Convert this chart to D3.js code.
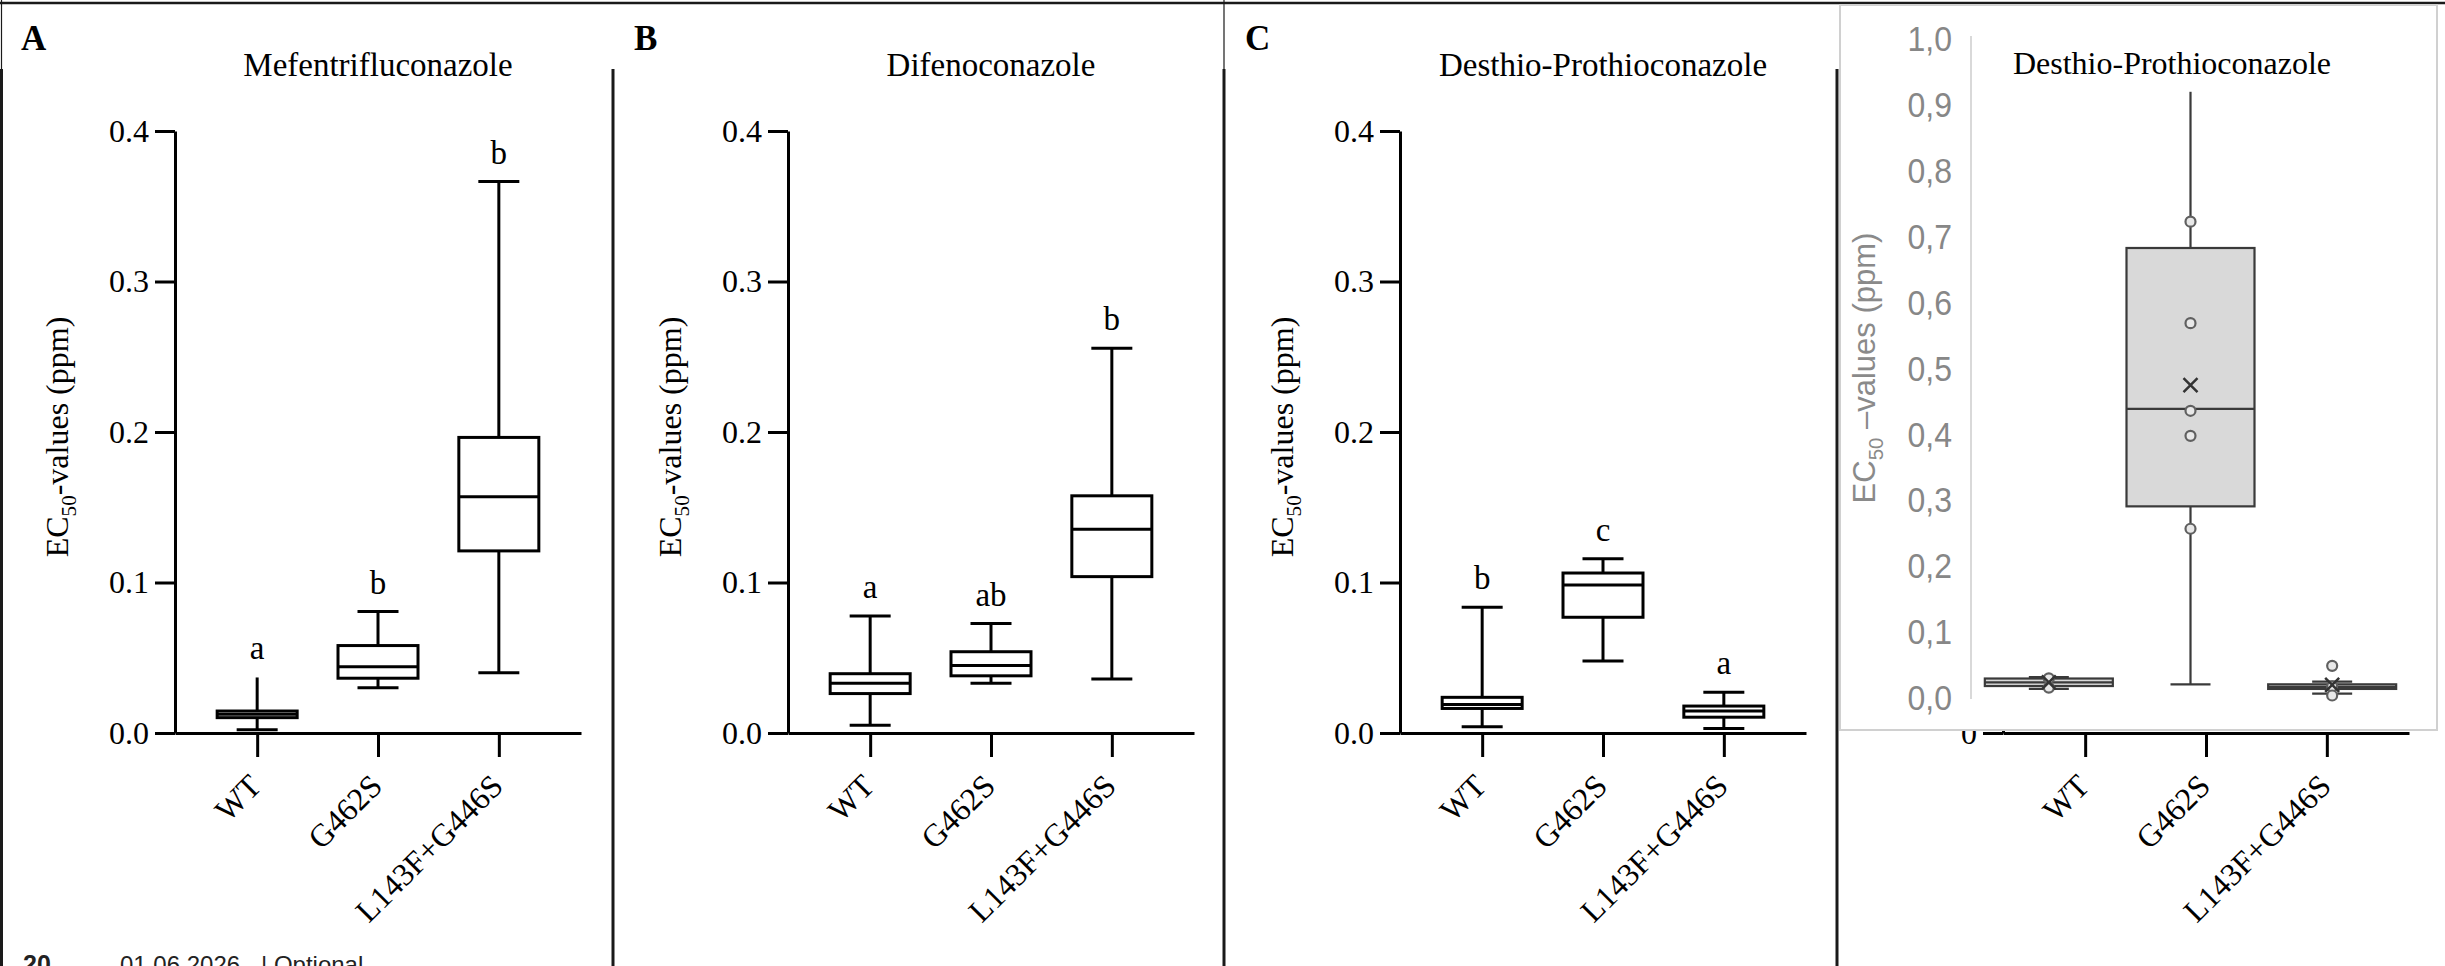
<!DOCTYPE html>
<html><head><meta charset="utf-8">
<script src="https://cdn.jsdelivr.net/npm/d3@7"></script>
<style>
html,body{margin:0;padding:0;background:#fff;overflow:hidden;}
svg{display:block;}
</style></head><body>
<svg id="c" width="2445" height="966"></svg>
<script>
// ---------- data ----------
const categories = ["WT", "G462S", "L143F+G446S"];
const panelTitles = ["Mefentrifluconazole", "Difenoconazole", "Desthio-Prothioconazole"];
const panelLetters = ["A", "B", "C"];
const yTicks = [0, 0.1, 0.2, 0.3, 0.4];
const yTickLabels = ["0.0", "0.1", "0.2", "0.3", "0.4"];
// each row: [whisker low, Q1, median, Q3, whisker high]
const mefStats = [
  [0.0022, 0.0102, 0.0124, 0.0146, 0.0369],
  [0.0300, 0.0364, 0.0441, 0.0581, 0.0807],
  [0.0400, 0.1210, 0.1570, 0.1964, 0.3664]
];
const mefLetters = ["a", "b", "b"];
const difStats = [
  [0.0052, 0.0262, 0.0331, 0.0394, 0.0777],
  [0.0330, 0.0380, 0.0449, 0.0540, 0.0727],
  [0.0358, 0.1039, 0.1353, 0.1576, 0.2557]
];
const difLetters = ["a", "ab", "b"];
const desStats = [
  [0.0041, 0.0163, 0.0190, 0.0237, 0.0835],
  [0.0479, 0.0769, 0.0983, 0.1063, 0.1157],
  [0.0030, 0.0105, 0.0146, 0.0179, 0.0270]
];
const desLetters = ["b", "c", "a"];
// whether the upper whisker carries a cap in the reference
const mefTopCap = [false, true, true];
const difTopCap = [true, true, true];
const desTopCap = [true, true, true];
// panel D (underlying chart, mostly covered) tick
const panelDTicks = [0];
const panelDTickLabels = ["0"];
// inset (spreadsheet box plot)
const insetTitle = "Desthio-Prothioconazole";
const insetTicks = [0, 0.1, 0.2, 0.3, 0.4, 0.5, 0.6, 0.7, 0.8, 0.9, 1.0];
const insetTickLabels = ["0,0", "0,1", "0,2", "0,3", "0,4", "0,5", "0,6", "0,7", "0,8", "0,9", "1,0"];
const insetStats = [
  [0.0130, 0.0174, 0.0230, 0.0288, 0.0310],
  [0.0200, 0.2900, 0.4380, 0.6820, 0.9190],
  [0.0060, 0.0130, 0.0160, 0.0200, 0.0240]
];
const insetTopCap = [true, false, true];
const insetMeans = [0.023, 0.474, 0.019];
const insetPoints = [
  [0.029, 0.015],
  [0.722, 0.568, 0.435, 0.397, 0.256],
  [0.048, 0.017, 0.003]
];
const footerPage = "20";
const footerDate = "01.06.2026";
const footerNote = "| Optional";

// ---------- layout ----------
const SERIF = "'Liberation Serif','Times New Roman',serif";
const SANS = "'Liberation Sans',Arial,sans-serif";
const svg = d3.select("#c");
const Y0 = 733, Y1 = 131, PLOTW = 406;
const panelLeft = [0, 613, 1224, 1837];
const axisXs = [175, 788, 1400, 2003];
const y = d3.scaleLinear().domain([0, 0.4]).range([Y0, Y1]);

// ---------- borders ----------
const border = svg.append("g").attr("stroke", "#1a1a1a");
border.append("line").attr("x1", 0).attr("x2", 2445).attr("y1", 3).attr("y2", 3).attr("stroke-width", 2.5);
border.append("line").attr("x1", 1.5).attr("x2", 1.5).attr("y1", 0).attr("y2", 69).attr("stroke-width", 1.2);
border.append("line").attr("x1", 1.5).attr("x2", 1.5).attr("y1", 69).attr("y2", 966).attr("stroke-width", 3);
border.append("line").attr("x1", 613).attr("x2", 613).attr("y1", 69).attr("y2", 966).attr("stroke-width", 3);
border.append("line").attr("x1", 1224).attr("x2", 1224).attr("y1", 0).attr("y2", 69).attr("stroke-width", 1.2);
border.append("line").attr("x1", 1224).attr("x2", 1224).attr("y1", 69).attr("y2", 966).attr("stroke-width", 3);
border.append("line").attr("x1", 1837).attr("x2", 1837).attr("y1", 69).attr("y2", 966).attr("stroke-width", 3);

function styleAxis(g) {
  g.selectAll("path,line").attr("stroke", "#000").attr("stroke-width", 3);
  g.selectAll("text").attr("font-family", SERIF).attr("font-size", 32).attr("fill", "#000");
}

function drawAxes(axisX, tickVals, tickLabs) {
  const x = d3.scalePoint().domain(categories).range([axisX, axisX + PLOTW]).padding(0.68);
  const gy = svg.append("g").attr("transform", `translate(${axisX},0)`)
    .call(d3.axisLeft(y).tickValues(tickVals).tickFormat((d, i) => tickLabs[i]).tickSize(20).tickSizeOuter(0).tickPadding(6));
  styleAxis(gy);
  const gx = svg.append("g").attr("transform", `translate(0,${Y0})`)
    .call(d3.axisBottom(x).tickSize(24).tickSizeOuter(0).tickFormat(""));
  styleAxis(gx);
  categories.forEach(c => {
    svg.append("text")
      .attr("transform", `translate(${x(c) + 6},${Y0 + 55}) rotate(-45)`)
      .attr("text-anchor", "end")
      .attr("font-family", SERIF).attr("font-size", 32).attr("fill", "#000")
      .text(c);
  });
  return x;
}

function yTitle(cx, cy, family, size, fill, rest) {
  const t = svg.append("text")
    .attr("transform", `translate(${cx},${cy}) rotate(-90)`)
    .attr("text-anchor", "middle")
    .attr("font-family", family).attr("font-size", size).attr("fill", fill);
  t.append("tspan").text("EC");
  t.append("tspan").attr("font-size", size * 0.66).attr("dy", size * 0.25).text("50");
  t.append("tspan").attr("dy", -size * 0.25).text(rest);
}

function drawPanel(i, stats, letters, topCap) {
  const axisX = axisXs[i];
  const x = drawAxes(axisX, yTicks, yTickLabels);
  const g = svg.append("g").attr("stroke", "#000").attr("stroke-width", 3).attr("fill", "none");
  const bw = 80, cw = 41;
  stats.forEach((s, k) => {
    const cx = x(categories[k]);
    const [lo, q1, md, q3, hi] = s;
    g.append("line").attr("x1", cx).attr("x2", cx).attr("y1", y(hi)).attr("y2", y(q3));
    g.append("line").attr("x1", cx).attr("x2", cx).attr("y1", y(q1)).attr("y2", y(lo));
    if (topCap[k]) g.append("line").attr("x1", cx - cw / 2).attr("x2", cx + cw / 2).attr("y1", y(hi)).attr("y2", y(hi));
    g.append("line").attr("x1", cx - cw / 2).attr("x2", cx + cw / 2).attr("y1", y(lo)).attr("y2", y(lo));
    g.append("rect").attr("x", cx - bw / 2).attr("width", bw).attr("y", y(q3)).attr("height", y(q1) - y(q3)).attr("fill", "#fff");
    g.append("line").attr("x1", cx - bw / 2).attr("x2", cx + bw / 2).attr("y1", y(md)).attr("y2", y(md));
    svg.append("text").attr("x", cx).attr("y", y(hi) - 18)
      .attr("text-anchor", "middle").attr("font-family", SERIF).attr("font-size", 33).attr("fill", "#000")
      .text(letters[k]);
  });
  svg.append("text").attr("x", axisX + PLOTW / 2).attr("y", 76)
    .attr("text-anchor", "middle").attr("font-family", SERIF).attr("font-size", 33).attr("fill", "#000")
    .text(panelTitles[i]);
  svg.append("text").attr("x", panelLeft[i] + 21).attr("y", 50)
    .attr("font-family", SERIF).attr("font-weight", "bold").attr("font-size", 35).attr("fill", "#000")
    .text(panelLetters[i]);
  yTitle(axisX - 107, 437, SERIF, 32, "#000", "-values (ppm)");
}

drawPanel(0, mefStats, mefLetters, mefTopCap);
drawPanel(1, difStats, difLetters, difTopCap);
drawPanel(2, desStats, desLetters, desTopCap);

// panel D underlying chart (covered by inset)
drawAxes(axisXs[3], panelDTicks, panelDTickLabels);

// ---------- inset ----------
const iy = d3.scaleLinear().domain([0, 1]).range([697.5, 38.4]);
const ix = d3.scalePoint().domain(categories).range([1978, 2403]).padding(0.5);
svg.append("rect").attr("x", 1840).attr("y", 5).attr("width", 597).attr("height", 725)
  .attr("fill", "#fff").attr("stroke", "#d0d0d0").attr("stroke-width", 2);
svg.append("line").attr("x1", 1971).attr("x2", 1971).attr("y1", 36).attr("y2", 699)
  .attr("stroke", "#d9d9d9").attr("stroke-width", 2);
insetTicks.forEach((t, i) => {
  svg.append("text").attr("transform", `translate(1952,${iy(t)}) scale(1,1.1)`).attr("dy", "0.36em")
    .attr("text-anchor", "end").attr("font-family", SANS).attr("font-size", 32).attr("fill", "#878787")
    .text(insetTickLabels[i]);
});
yTitle(1875, 368, SANS, 31, "#8a8a8a", " \u2013values (ppm)");
svg.append("text").attr("x", 2172).attr("y", 74).attr("text-anchor", "middle")
  .attr("font-family", SERIF).attr("font-size", 32).attr("fill", "#000").text(insetTitle);
const ig = svg.append("g").attr("stroke", "#3a3a3a").attr("stroke-width", 2.2).attr("fill", "none");
insetStats.forEach((s, k) => {
  const cx = ix(categories[k]);
  const [lo, q1, md, q3, hi] = s;
  const bw = 128, cw = 40;
  ig.append("line").attr("x1", cx).attr("x2", cx).attr("y1", iy(hi)).attr("y2", iy(q3));
  ig.append("line").attr("x1", cx).attr("x2", cx).attr("y1", iy(q1)).attr("y2", iy(lo));
  ig.append("line").attr("x1", cx - cw / 2).attr("x2", cx + cw / 2).attr("y1", iy(lo)).attr("y2", iy(lo));
  if (insetTopCap[k]) ig.append("line").attr("x1", cx - cw / 2).attr("x2", cx + cw / 2).attr("y1", iy(hi)).attr("y2", iy(hi));
  ig.append("rect").attr("x", cx - bw / 2).attr("width", bw).attr("y", iy(q3)).attr("height", iy(q1) - iy(q3)).attr("fill", "#d9d9d9");
  ig.append("line").attr("x1", cx - bw / 2).attr("x2", cx + bw / 2).attr("y1", iy(md)).attr("y2", iy(md));
  insetPoints[k].forEach(p => {
    ig.append("circle").attr("cx", cx).attr("cy", iy(p)).attr("r", 5).attr("fill", "#e8e8e8").attr("stroke", "#606060");
  });
  const my = iy(insetMeans[k]), m = 7;
  ig.append("path").attr("d", `M${cx - m},${my - m}L${cx + m},${my + m}M${cx - m},${my + m}L${cx + m},${my - m}`)
    .attr("stroke", "#333").attr("stroke-width", 2.5);
});

// ---------- footer ----------
svg.append("text").attr("x", 23).attr("y", 973).attr("font-family", SANS).attr("font-weight", "bold")
  .attr("font-size", 25).attr("fill", "#222").text(footerPage);
svg.append("text").attr("x", 120).attr("y", 973).attr("font-family", SANS)
  .attr("font-size", 24).attr("fill", "#222").text(footerDate);
svg.append("text").attr("x", 261).attr("y", 973).attr("font-family", SANS)
  .attr("font-size", 24).attr("fill", "#222").text(footerNote);
</script>
</body></html>
